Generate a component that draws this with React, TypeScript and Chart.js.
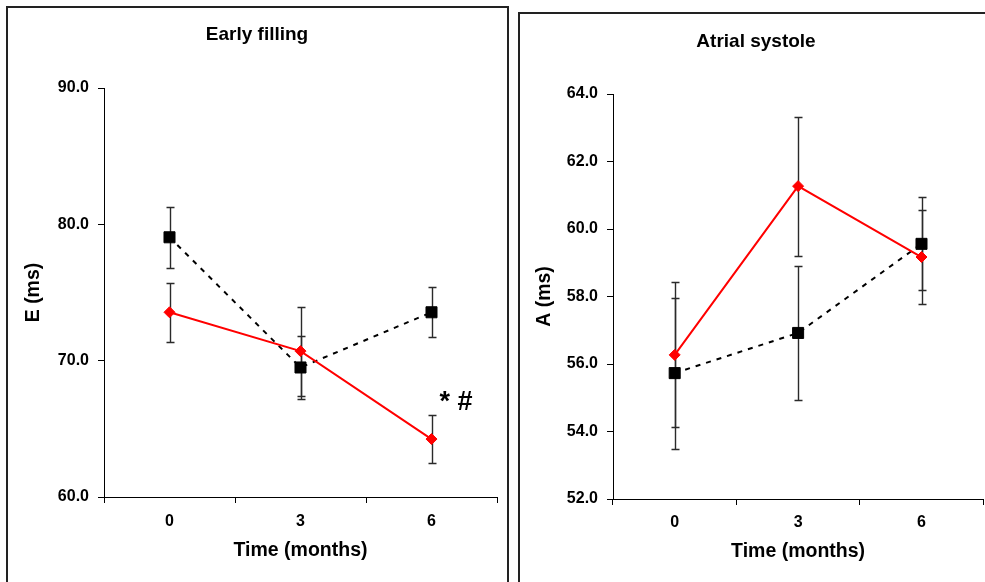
import React, { useEffect, useRef } from "react";
import { Chart, registerables } from "chart.js";

Chart.register(...registerables);

// ---------- data ----------
const MONTHS = ["0", "3", "6"];

// Early filling, E (ms)
const E_RED = [73.55, 70.7, 64.25];
const E_RED_SD = [2.16, 3.26, 1.79];
const E_BLACK = [79.05, 69.5, 73.55];
const E_BLACK_SD = [2.23, 2.34, 1.83];
const E_MIN = 60;
const E_MAX = 90;
const E_STEP = 10;
const E_MARK_TEXT = "* #";
const E_MARK_INDEX = 2;
const E_MARK_VALUE = 66.9;

// Atrial systole, A (ms)
const A_RED = [56.27, 61.27, 59.17];
const A_RED_SD = [2.15, 2.06, 1.39];
const A_BLACK = [55.73, 56.92, 59.56];
const A_BLACK_SD = [2.24, 1.99, 1.38];
const A_MIN = 52;
const A_MAX = 64;
const A_STEP = 2;

const FONT = '"Liberation Sans", Arial, Helvetica, sans-serif';

type PanelDef = {
  title: string;
  yTitle: string;
  red: number[];
  redSd: number[];
  black: number[];
  blackSd: number[];
  min: number;
  max: number;
  step: number;
  width: number;
  height: number;
  yAxisWidth: number;
  xAxisHeight: number;
  padRight: number;
  titleX: number;
  titleY: number;
  yTitlePad: number;
  xTitlePad: number;
  xTickPad: number;
  mark?: { text: string; index: number; value: number };
};

function makeConfig(p: PanelDef): any {
  const errorBars = {
    id: "errorBars",
    beforeDatasetsDraw(chart: any) {
      const { ctx } = chart;
      const xs = chart.scales.x;
      const ys = chart.scales.y;
      const sets = [
        { v: p.black, sd: p.blackSd },
        { v: p.red, sd: p.redSd },
      ];
      ctx.save();
      ctx.strokeStyle = "#2a2a2a";
      ctx.lineWidth = 1.4;
      sets.forEach((s) => {
        s.v.forEach((v, i) => {
          const px = Math.round(xs.getPixelForValue(i)) + 0.5;
          const top = Math.round(ys.getPixelForValue(v + s.sd[i])) + 0.5;
          const bot = Math.round(ys.getPixelForValue(v - s.sd[i])) + 0.5;
          ctx.beginPath();
          ctx.moveTo(px, top);
          ctx.lineTo(px, bot);
          ctx.moveTo(px - 4, top);
          ctx.lineTo(px + 4, top);
          ctx.moveTo(px - 4, bot);
          ctx.lineTo(px + 4, bot);
          ctx.stroke();
        });
      });
      ctx.restore();
    },
  };

  const texts = {
    id: "panelTexts",
    afterDraw(chart: any) {
      const { ctx } = chart;
      ctx.save();
      ctx.fillStyle = "#000";
      ctx.font = `bold 19px ${FONT}`;
      ctx.textAlign = "center";
      ctx.textBaseline = "middle";
      ctx.fillText(p.title, p.titleX, p.titleY);
      if (p.mark) {
        const xs = chart.scales.x;
        const ys = chart.scales.y;
        ctx.font = `bold 27px ${FONT}`;
        ctx.textAlign = "left";
        ctx.fillText(
          p.mark.text,
          xs.getPixelForValue(p.mark.index) + 8,
          ys.getPixelForValue(p.mark.value)
        );
      }
      ctx.restore();
    },
  };

  const tickFont = { family: FONT, size: 16, weight: "bold" };
  const titleFont = { family: FONT, size: 19.5, weight: "bold" };

  return {
    type: "line",
    data: {
      labels: MONTHS,
      datasets: [
        {
          label: "red",
          data: p.red,
          borderColor: "#ff0000",
          backgroundColor: "#ff0000",
          borderWidth: 2,
          pointStyle: "rectRot",
          pointRadius: 5.5,
          pointBorderWidth: 1,
          pointBorderColor: "#ff0000",
          pointBackgroundColor: "#ff0000",
          fill: false,
          tension: 0,
        },
        {
          label: "black",
          data: p.black,
          borderColor: "#000000",
          backgroundColor: "#000000",
          borderWidth: 2,
          borderDash: [5, 6],
          pointStyle: "rect",
          pointRadius: 7.8,
          pointBorderWidth: 1,
          pointBorderColor: "#000000",
          pointBackgroundColor: "#000000",
          fill: false,
          tension: 0,
        },
      ],
    },
    options: {
      responsive: false,
      animation: false,
      events: [],
      layout: { padding: { top: 80, right: p.padRight, left: 0, bottom: 0 } },
      plugins: {
        legend: { display: false },
        tooltip: { enabled: false },
        title: { display: false },
      },
      scales: {
        x: {
          type: "category",
          offset: true,
          grid: {
            offset: true,
            drawOnChartArea: false,
            drawTicks: true,
            tickLength: 6,
            color: "#000",
            lineWidth: 1,
          },
          border: { display: true, color: "#000", width: 1 },
          ticks: { color: "#000", font: tickFont, padding: p.xTickPad, maxRotation: 0 },
          title: {
            display: true,
            text: "Time (months)",
            color: "#000",
            font: titleFont,
            padding: { top: 0, bottom: p.xTitlePad },
          },
          afterFit: (s: any) => {
            s.height = p.xAxisHeight;
          },
        },
        y: {
          min: p.min,
          max: p.max,
          grid: {
            drawOnChartArea: false,
            drawTicks: true,
            tickLength: 6,
            color: "#000",
            lineWidth: 1,
          },
          border: { display: true, color: "#000", width: 1 },
          ticks: {
            stepSize: p.step,
            color: "#000",
            font: tickFont,
            padding: 9,
            callback: (v: any) => Number(v).toFixed(1),
          },
          title: {
            display: true,
            text: p.yTitle,
            color: "#000",
            font: titleFont,
            padding: { top: p.yTitlePad, bottom: 0 },
          },
          afterFit: (s: any) => {
            s.width = p.yAxisWidth;
          },
        },
      },
    },
    plugins: [errorBars, texts],
  };
}

function Panel({ def, left, top }: { def: PanelDef; left: number; top: number }) {
  const ref = useRef<HTMLCanvasElement>(null);
  useEffect(() => {
    const chart = new Chart(ref.current as HTMLCanvasElement, makeConfig(def));
    return () => chart.destroy();
  }, []);
  return (
    <canvas
      ref={ref}
      width={def.width}
      height={def.height}
      style={{
        position: "absolute",
        left,
        top,
        width: def.width,
        height: def.height,
        display: "block",
      }}
    />
  );
}

const LEFT_PANEL: PanelDef = {
  title: "Early filling",
  yTitle: "E (ms)",
  red: E_RED,
  redSd: E_RED_SD,
  black: E_BLACK,
  blackSd: E_BLACK_SD,
  min: E_MIN,
  max: E_MAX,
  step: E_STEP,
  width: 499,
  height: 574,
  yAxisWidth: 96,
  xAxisHeight: 85,
  padRight: 10,
  titleX: 249,
  titleY: 27,
  yTitlePad: 14,
  xTitlePad: 20,
  xTickPad: 9,
  mark: { text: E_MARK_TEXT, index: E_MARK_INDEX, value: E_MARK_VALUE },
};

const RIGHT_PANEL: PanelDef = {
  title: "Atrial systole",
  yTitle: "A (ms)",
  red: A_RED,
  redSd: A_RED_SD,
  black: A_BLACK,
  blackSd: A_BLACK_SD,
  min: A_MIN,
  max: A_MAX,
  step: A_STEP,
  width: 472,
  height: 568,
  yAxisWidth: 93,
  xAxisHeight: 83,
  padRight: 8,
  titleX: 236,
  titleY: 28,
  yTitlePad: 13,
  xTitlePad: 19,
  xTickPad: 8,
};

export default function App() {
  return (
    <div
      style={{
        position: "absolute",
        left: 0,
        top: 0,
        width: 985,
        height: 582,
        overflow: "hidden",
        background: "#fff",
      }}
    >
      <div
        style={{
          position: "absolute",
          left: 6,
          top: 6,
          width: 499,
          height: 600,
          border: "2px solid #222",
        }}
      />
      <div
        style={{
          position: "absolute",
          left: 518,
          top: 12,
          width: 500,
          height: 600,
          border: "2px solid #222",
        }}
      />
      <Panel def={LEFT_PANEL} left={8} top={8} />
      <Panel def={RIGHT_PANEL} left={520} top={14} />
    </div>
  );
}
